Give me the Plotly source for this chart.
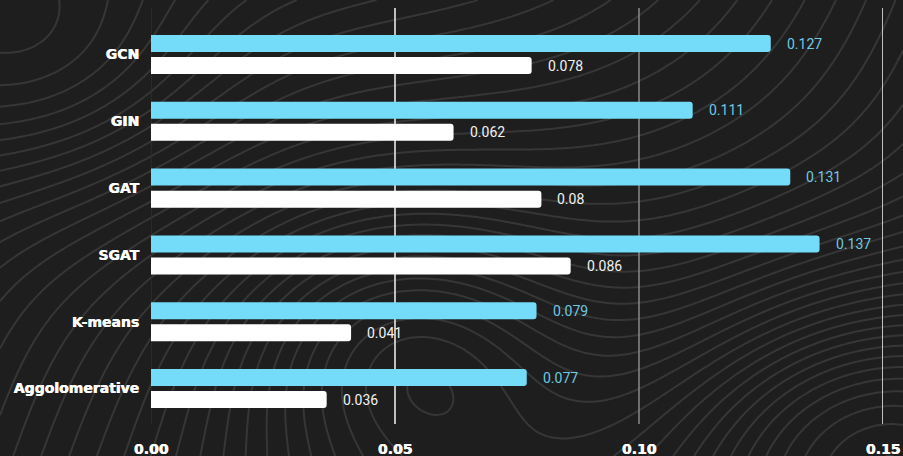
import numpy as np
import plotly.graph_objects as go

# Clustering quality per method: two metrics
methods = ["GCN", "GIN", "GAT", "SGAT", "K-means", "Aggolomerative"]
metric_a = [0.127, 0.111, 0.131, 0.137, 0.079, 0.077]
metric_b = [0.078, 0.062, 0.080, 0.086, 0.041, 0.036]
x_ticks = [0.00, 0.05, 0.10, 0.15]
x_tick_text = ["0.00", "0.05", "0.10", "0.15"]
grid_colors = ["#2e2e2e", "#f4f4f4", "#8a8a8a", "#f4f4f4"]

W, H = 903, 456
BG = "#1e1e1e"
CYAN = "#74dcf8"
CYAN_TXT = "#6fc9e2"
WHITE = "#ffffff"
X_DOMAIN = [151 / W, 883 / W]
Y_DOMAIN = [1 - 424 / H, 1 - 8 / H]
HEAVY = "0.6px 0 0 #ffffff"   # thickens the bold axis labels slightly

fig = go.Figure()

# Layer 1: decorative topographic texture over the whole page
gx = np.linspace(0, 1, 220)
gy = np.linspace(0, 1, 120)
X, Y = np.meshgrid(gx, gy)
texture = (
    3.0 * X - 2.2 * Y
    + 2.2 * np.exp(-(((X - 0.97) / 0.22) ** 2 + ((Y - 0.05) / 0.35) ** 2))
    + 1.4 * np.exp(-(((X - 0.45) / 0.18) ** 2 + ((Y - 0.25) / 0.30) ** 2))
    - 1.2 * np.exp(-(((X - 0.05) / 0.20) ** 2 + ((Y - 0.85) / 0.30) ** 2))
    + 0.6 * np.sin(4.0 * X + 2.0 * Y)
)
fig.add_trace(go.Contour(
    x=gx, y=gy, z=texture,
    xaxis="x", yaxis="y",
    contours=dict(coloring="lines", start=-4, end=6, size=0.17),
    line=dict(width=2),
    colorscale=[[0, "#363636"], [1, "#363636"]],
    showscale=False, hoverinfo="skip",
))

# Layer 2: vertical grid lines at each tick
for xv, c in zip(x_ticks, grid_colors):
    fig.add_trace(go.Scatter(
        x=[xv, xv], y=[0, 1], mode="lines",
        xaxis="x2", yaxis="y2",
        line=dict(color=c, width=1.5),
        hoverinfo="skip", showlegend=False,
    ))

# Layer 3: the bars
fig.add_trace(go.Bar(
    y=methods, x=metric_a, orientation="h",
    xaxis="x3", yaxis="y3",
    marker=dict(color=CYAN, line=dict(width=0)),
    name="A",
))
fig.add_trace(go.Bar(
    y=methods, x=metric_b, orientation="h",
    xaxis="x3", yaxis="y3",
    marker=dict(color=WHITE, line=dict(width=0)),
    name="B",
))

# Value labels placed just past the end of each bar
for m, v in zip(methods, metric_a):
    fig.add_annotation(x=v, y=m, text=f"{v:g}", xref="x3", yref="y3",
                       xanchor="left", yanchor="middle", showarrow=False,
                       xshift=14, yshift=11,
                       font=dict(family="Roboto", size=14, color=CYAN_TXT))
for m, v in zip(methods, metric_b):
    fig.add_annotation(x=v, y=m, text=f"{v:g}", xref="x3", yref="y3",
                       xanchor="left", yanchor="middle", showarrow=False,
                       xshift=14, yshift=-11,
                       font=dict(family="Roboto", size=14, color="#f2f2f2"))

hidden = dict(visible=False, fixedrange=True, showgrid=False, zeroline=False)

fig.update_layout(
    width=W, height=H,
    margin=dict(l=0, r=0, t=0, b=0),
    paper_bgcolor=BG, plot_bgcolor="rgba(0,0,0,0)",
    showlegend=False,
    barmode="group",
    bargap=0.34, bargroupgap=0.23,
    barcornerradius=3,
    xaxis=dict(domain=[0, 1], range=[0, 1], **hidden),
    yaxis=dict(domain=[0, 1], range=[0, 1], **hidden),
    xaxis2=dict(domain=X_DOMAIN, range=[0, 0.15], anchor="y2", **hidden),
    yaxis2=dict(domain=Y_DOMAIN, range=[0, 1], anchor="x2", **hidden),
    xaxis3=dict(
        domain=X_DOMAIN,
        anchor="y3",
        range=[0, 0.15],
        tickvals=x_ticks, ticktext=x_tick_text,
        showgrid=False, zeroline=False, showline=False, ticks="",
        automargin=False,
        ticklabelstandoff=15,
        tickfont=dict(family="DejaVu Sans", size=14, color=WHITE,
                      weight="bold", shadow=HEAVY),
    ),
    yaxis3=dict(
        domain=Y_DOMAIN,
        anchor="x3",
        range=[5.53, -0.696],
        showgrid=False, zeroline=False, showline=False, ticks="",
        automargin=False,
        ticklabelstandoff=11,
        tickfont=dict(family="DejaVu Sans", size=14, color=WHITE,
                      weight="bold", shadow=HEAVY),
    ),
)

fig.write_html("out.html")
